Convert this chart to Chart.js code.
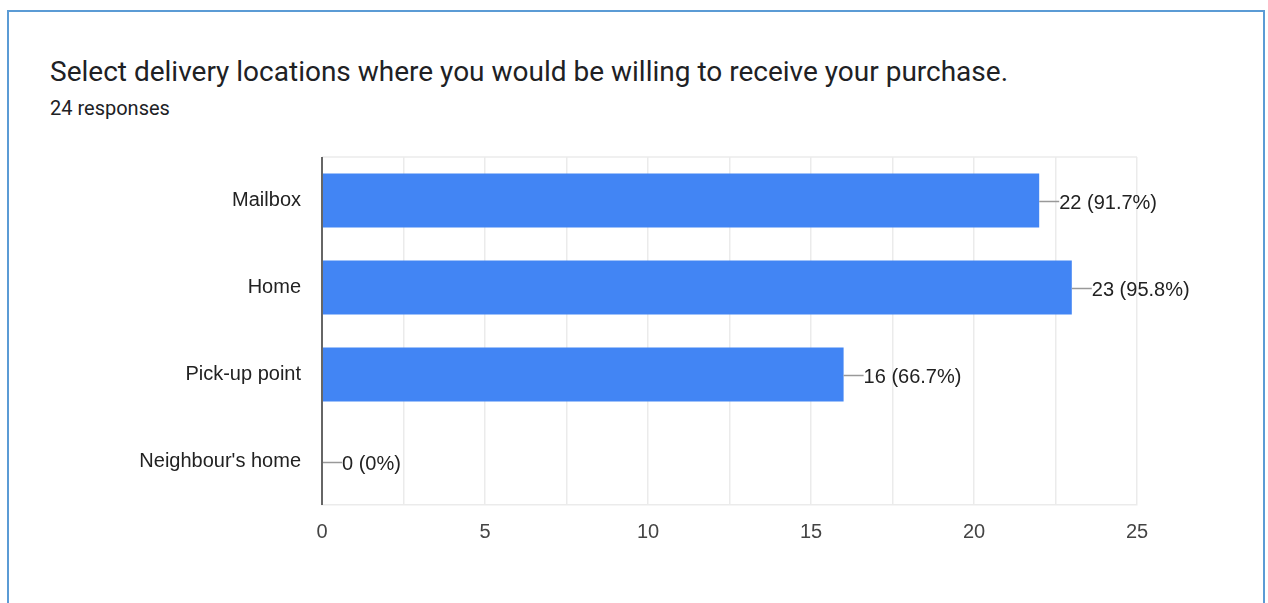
<!DOCTYPE html>
<html>
<head>
<meta charset="utf-8">
<script src="https://cdn.jsdelivr.net/npm/chart.js@4/dist/chart.umd.min.js"></script>
<style>
  html, body { margin: 0; padding: 0; background: #fff; width: 1268px; height: 603px; overflow: hidden; }
  #card { position: absolute; left: 7px; top: 10px; width: 1258px; height: 700px; border: 2px solid #5b9bd5; box-sizing: border-box; }
  #title { position: absolute; left: 50px; top: 55px; font-family: Roboto, "Noto Sans", sans-serif; font-size: 28px; color: #202124; white-space: nowrap; }
  #sub { position: absolute; left: 50px; top: 96px; font-family: Roboto, "Noto Sans", sans-serif; font-size: 20px; color: #202124; white-space: nowrap; }
  #c { position: absolute; left: 0; top: 0; }
</style>
</head>
<body>
<div id="card"></div>
<div id="title">Select delivery locations where you would be willing to receive your purchase.</div>
<div id="sub">24 responses</div>
<canvas id="c" width="1268" height="603"></canvas>
<script>
const categories = ["Mailbox", "Home", "Pick-up point", "Neighbour's home"];
const counts = [22, 23, 16, 0];
const percentLabels = ["91.7%", "95.8%", "66.7%", "0%"];
const xTickMax = 25;
const xTickStep = 2.5;

const FONT = "'Liberation Sans', Arial, sans-serif";
const FSIZE = 20;

const valueLabels = {
  id: 'valueLabels',
  afterDatasetsDraw(chart) {
    const ctx = chart.ctx;
    const meta = chart.getDatasetMeta(0);
    const xs = chart.scales.x;
    ctx.save();
    ctx.font = FSIZE + "px " + FONT;
    ctx.fillStyle = "#222222";
    ctx.textBaseline = "middle";
    ctx.textAlign = "left";
    meta.data.forEach((bar, i) => {
      const xEnd = xs.getPixelForValue(counts[i]);
      const y = bar.y;
      ctx.strokeStyle = "#999999";
      ctx.lineWidth = 1.5;
      ctx.beginPath();
      ctx.moveTo(xEnd, y + 1);
      ctx.lineTo(xEnd + 20, y + 1);
      ctx.stroke();
      ctx.fillText(counts[i] + " (" + percentLabels[i] + ")", xEnd + 20, y + 2.5);
    });
    const a = chart.chartArea;
    ctx.strokeStyle = "#ebebeb";
    ctx.lineWidth = 1.5;
    ctx.beginPath();
    ctx.moveTo(a.left, a.top);
    ctx.lineTo(a.right, a.top);
    ctx.stroke();
    const x0 = xs.getPixelForValue(0);
    ctx.strokeStyle = "#666666";
    ctx.lineWidth = 2;
    ctx.beginPath();
    ctx.moveTo(x0, a.top);
    ctx.lineTo(x0, a.bottom);
    ctx.stroke();
    ctx.restore();
  }
};

new Chart(document.getElementById('c'), {
  type: 'bar',
  data: {
    labels: categories,
    datasets: [{
      data: counts,
      backgroundColor: '#4285f4',
      borderWidth: 0,
      categoryPercentage: 1.0,
      barPercentage: 0.62
    }]
  },
  plugins: [valueLabels],
  options: {
    indexAxis: 'y',
    responsive: false,
    animation: false,
    layout: { padding: { top: 157, right: 131, left: 0, bottom: 0 } },
    plugins: { legend: { display: false }, tooltip: { enabled: false } },
    scales: {
      x: {
        min: 0, max: xTickMax,
        afterFit(s) { s.height = 98; },
        ticks: {
          stepSize: xTickStep,
          autoSkip: false,
          maxRotation: 0,
          padding: 15,
          color: '#444444',
          font: { family: FONT, size: FSIZE },
          callback(v) { return (v % 5 === 0) ? String(v) : ''; }
        },
        grid: { color: '#ebebeb', lineWidth: 1.5, drawTicks: false },
        border: { display: true, color: '#ebebeb', width: 1.5 }
      },
      y: {
        afterFit(s) { s.width = 322; },
        ticks: {
          padding: 21,
          color: '#222222',
          font: { family: FONT, size: FSIZE }
        },
        grid: { display: false, drawTicks: false },
        border: { display: false }
      }
    }
  }
});
</script>
</body>
</html>
